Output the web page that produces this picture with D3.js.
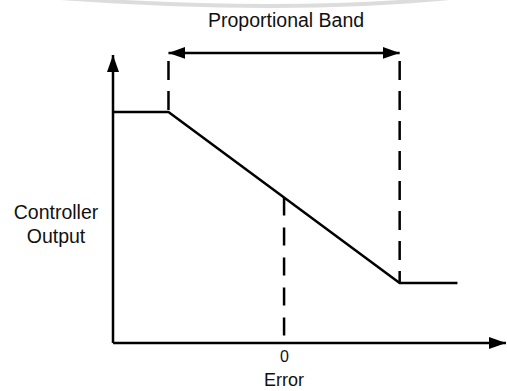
<!DOCTYPE html>
<html>
<head>
<meta charset="utf-8">
<script src="https://cdn.jsdelivr.net/npm/d3@7"></script>
<style>
  html, body { margin: 0; padding: 0; background: #fff; }
  svg { display: block; font-family: "Liberation Sans", Arial, sans-serif; }
</style>
</head>
<body>
<div class="chart"></div>
<script>
// proportional band diagram
var width = 507;
var height = 391;

// controller characteristic (error %, output %)
var errorPts = [-74, -50, 50, 75];
var outputPts = [77, 77, 20, 20];
var bandEdges = [-50, 50];
var tickValues = [0];
var tickLabels = ['0'];

var x = d3.scaleLinear().domain([-74, 96]).range([113, 506]);
var y = d3.scaleLinear().domain([0, 100]).range([343, 43]);

var svg = d3.select('.chart').append('svg')
  .attr('width', width)
  .attr('height', height);

// faint scan watermark arc at the top
svg.append('path')
  .attr('d', 'M60,-2 Q285,14 450,-2')
  .attr('fill', 'none')
  .attr('stroke', '#dcdcdc')
  .attr('stroke-width', 4);

var defs = svg.append('defs');
function marker(id) {
  defs.append('marker')
    .attr('id', id)
    .attr('viewBox', '0 0 17 12')
    .attr('refX', 17).attr('refY', 6)
    .attr('markerWidth', 17).attr('markerHeight', 12)
    .attr('markerUnits', 'userSpaceOnUse')
    .attr('orient', 'auto-start-reverse')
    .append('path')
    .attr('d', 'M0,0 L17,6 L0,12 Z')
    .attr('fill', '#000');
}
marker('arrow');

// axes
svg.append('line')
  .attr('x1', x(-74)).attr('y1', y(0))
  .attr('x2', x(-74)).attr('y2', y(96))
  .attr('stroke', '#000').attr('stroke-width', 2.5)
  .attr('marker-end', 'url(#arrow)');

svg.append('line')
  .attr('x1', x(-74)).attr('y1', y(0))
  .attr('x2', x(96)).attr('y2', y(0))
  .attr('stroke', '#000').attr('stroke-width', 2.5)
  .attr('marker-end', 'url(#arrow)');

var xAxis = d3.axisBottom(x)
  .tickValues(tickValues)
  .tickFormat((d, i) => tickLabels[i])
  .tickSize(0)
  .tickPadding(8);

svg.append('g')
  .attr('transform', `translate(0,${y(0)})`)
  .call(xAxis)
  .call(g => g.select('.domain').remove())
  .selectAll('text')
  .attr('font-size', 16)
  .attr('font-family', '"Liberation Sans", Arial, sans-serif')
  .attr('fill', '#111');

// output curve
var pts = errorPts.map((e, i) => [e, outputPts[i]]);
var line = d3.line().x(d => x(d[0])).y(d => y(d[1]));

svg.append('path')
  .attr('d', line(pts))
  .attr('fill', 'none')
  .attr('stroke', '#000')
  .attr('stroke-width', 2.5)
  .attr('stroke-linejoin', 'miter');

// dashed guides
var outAt = d3.scaleLinear().domain(bandEdges).range([outputPts[1], outputPts[2]]);

svg.selectAll('.edge')
  .data(bandEdges)
  .enter().append('line')
  .attr('class', 'edge')
  .attr('x1', d => x(d)).attr('y1', y(94))
  .attr('x2', d => x(d)).attr('y2', d => y(outAt(d)))
  .attr('stroke', '#000').attr('stroke-width', 2.5)
  .attr('stroke-dasharray', '19,11');

svg.append('line')
  .attr('x1', x(0)).attr('y1', y(outAt(0)))
  .attr('x2', x(0)).attr('y2', y(0))
  .attr('stroke', '#000').attr('stroke-width', 2.5)
  .attr('stroke-dasharray', '18,12');

// band arrow
svg.append('line')
  .attr('x1', x(bandEdges[0])).attr('y1', y(96.7))
  .attr('x2', x(bandEdges[1])).attr('y2', y(96.7))
  .attr('stroke', '#000').attr('stroke-width', 2.5)
  .attr('marker-start', 'url(#arrow)')
  .attr('marker-end', 'url(#arrow)');

// labels
svg.append('text')
  .attr('x', x(0) + 2).attr('y', 27)
  .attr('text-anchor', 'middle')
  .attr('font-size', 19.5)
  .attr('fill', '#111')
  .text('Proportional Band');

var yl = svg.append('text')
  .attr('text-anchor', 'middle')
  .attr('font-size', 19.5)
  .attr('fill', '#111');
yl.append('tspan').attr('x', 56).attr('y', 219).text('Controller');
yl.append('tspan').attr('x', 56).attr('y', 243).text('Output');

svg.append('text')
  .attr('x', x(0)).attr('y', 386)
  .attr('text-anchor', 'middle')
  .attr('font-size', 18)
  .attr('fill', '#111')
  .text('Error');
</script>
</body>
</html>
